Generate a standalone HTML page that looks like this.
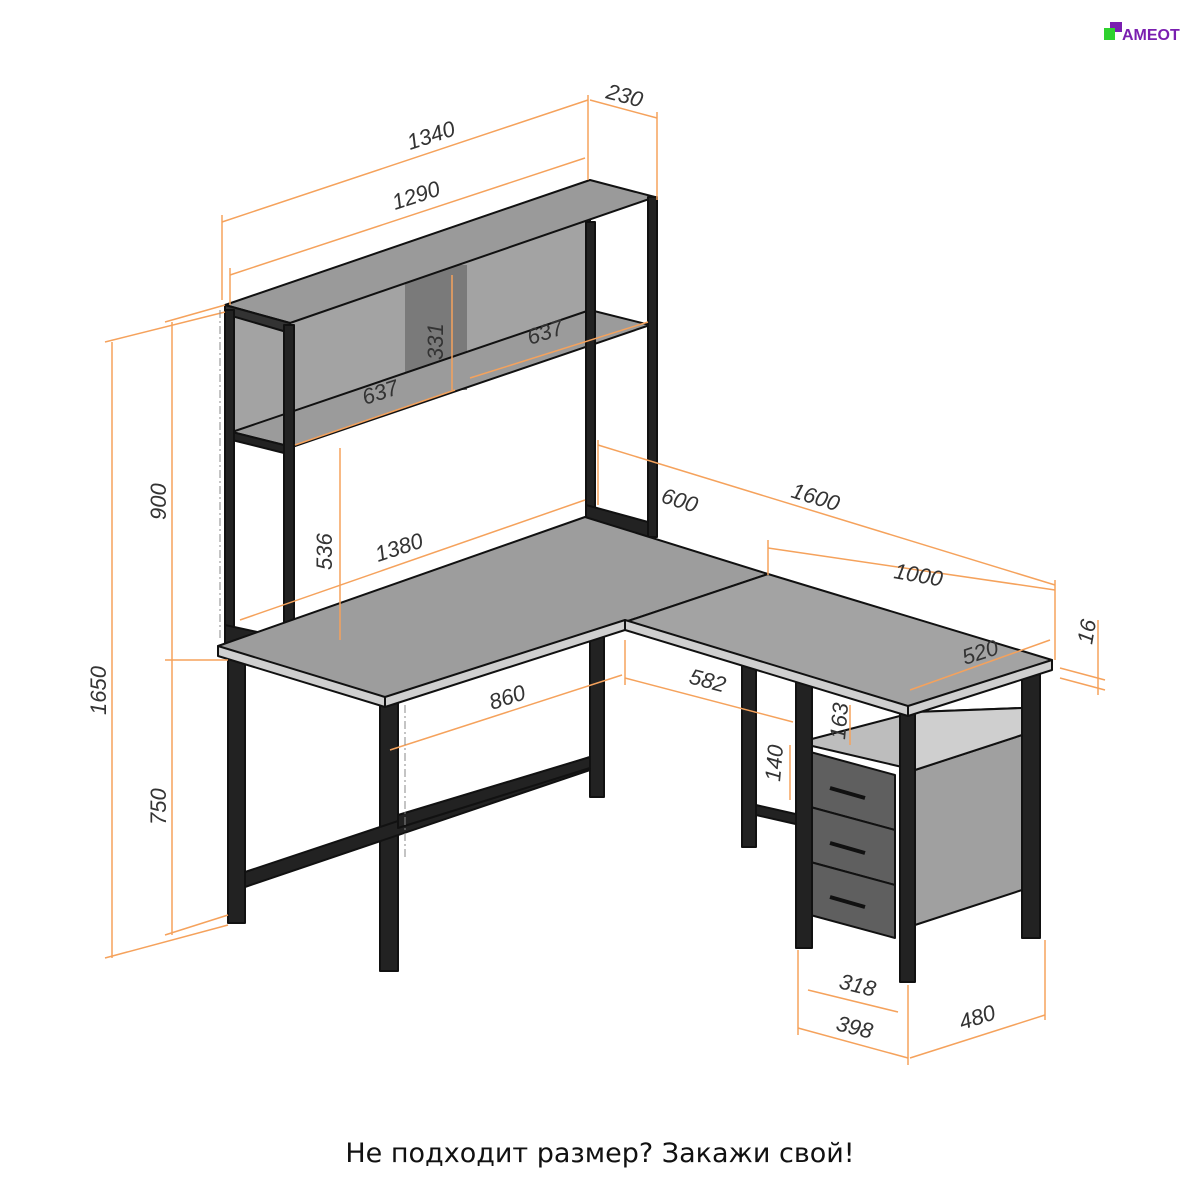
<!DOCTYPE html>
<html><head><meta charset="utf-8"><style>
html,body{margin:0;padding:0;background:#fff;width:1200px;height:1200px;overflow:hidden}
svg text{font-family:"Liberation Sans",sans-serif;fill:#333;font-size:22px}
</style></head><body>
<svg width="1200" height="1200" viewBox="0 0 1200 1200" xmlns="http://www.w3.org/2000/svg">
<!-- logo -->
<rect x="1110" y="22" width="12" height="10" fill="#7a1fb0"/>
<rect x="1104" y="28" width="11" height="12" fill="#2fd12f"/>
<text x="1122" y="40" style="font-size:16px;font-weight:bold;fill:#7a1fb0">АМЕОТ</text>

<g stroke="#111" stroke-width="2" stroke-linejoin="round">
<!-- hutch back panel -->
<polygon points="232,310 590,190 590,315 232,435" fill="#a3a3a3"/>
<rect x="405" y="265" width="62" height="125" fill="#7a7a7a" stroke="none"/>
<!-- top shelf -->
<polygon points="225,305 590,180 655,197 290,323" fill="#9a9a9a"/>
<polygon points="225,305 290,323 290,333 225,314" fill="#333"/>
<!-- middle shelf -->
<polygon points="232,432 590,310 650,325 292,447" fill="#9b9b9b"/>
<polygon points="232,432 292,447 292,455 232,440" fill="#222"/>
<!-- hutch frame legs -->
<rect x="225" y="310" width="9" height="335" fill="#222"/>
<rect x="284" y="325" width="10" height="335" fill="#222"/>
<rect x="586" y="222" width="9" height="302" fill="#222"/>
<rect x="648" y="197" width="9" height="340" fill="#222"/>
<polygon points="586,505 648,522 648,537 586,520" fill="#222"/>
<polygon points="225,625 294,640 294,660 225,645" fill="#222"/>

<!-- desk legs -->
<rect x="228" y="655" width="17" height="268" fill="#222"/>
<rect x="590" y="625" width="14" height="172" fill="#222"/>
<rect x="380" y="698" width="18" height="273" fill="#222"/>
<polygon points="245,872 590,757 590,770 245,887" fill="#222"/>
<polygon points="398,815 590,757 590,768 398,828" fill="#222"/>
<rect x="742" y="665" width="14" height="182" fill="#222"/>
<polygon points="756,805 800,815 800,825 756,815" fill="#222"/>
<!-- cabinet -->
<polygon points="808,745 915,770 1022,735 1022,708 915,712 808,740" fill="#bdbdbd"/>
<polygon points="915,770 1022,735 1022,890 915,925" fill="#a0a0a0"/>
<polygon points="915,712 1022,708 1022,735 915,770" fill="#cfcfcf"/>
<polygon points="803,750 895,775 895,830 803,805" fill="#5f5f5f"/>
<polygon points="803,805 895,830 895,885 803,860" fill="#5f5f5f"/>
<polygon points="803,860 895,885 895,938 803,913" fill="#5f5f5f"/>
<path d="M830,788 l35,10 M830,843 l35,10 M830,897 l35,10" stroke="#111" stroke-width="4" fill="none"/>
<rect x="796" y="680" width="16" height="268" fill="#222"/>
<rect x="900" y="710" width="15" height="272" fill="#222"/>
<rect x="1022" y="670" width="18" height="268" fill="#222"/>

<!-- desk top -->
<polygon points="218,646 585,517 768,574 625,622 385,700 218,652" fill="#9d9d9d"/>
<polygon points="625,622 768,574 1052,660 908,708" fill="#a3a3a3"/>
<polygon points="218,646 385,697 385,707 218,656" fill="#cfcfcf"/>
<polygon points="385,697 625,620 625,630 385,707" fill="#cfcfcf"/>
<polygon points="625,620 908,706 908,716 625,630" fill="#cfcfcf"/>
<polygon points="908,706 1052,660 1052,670 908,716" fill="#cfcfcf"/>
</g>

<!-- dimension lines -->
<g stroke="#f5a25c" stroke-width="1.5" fill="none">
<line x1="222" y1="222" x2="588" y2="100"/><line x1="222" y1="215" x2="222" y2="300"/><line x1="588" y1="95" x2="588" y2="180"/>
<line x1="590" y1="100" x2="657" y2="118"/><line x1="657" y1="112" x2="657" y2="200"/>
<line x1="230" y1="275" x2="585" y2="158"/><line x1="230" y1="268" x2="230" y2="305"/>
<line x1="452" y1="275" x2="452" y2="390"/>
<line x1="295" y1="445" x2="455" y2="390"/>
<line x1="470" y1="378" x2="648" y2="322"/>
<line x1="172" y1="322" x2="172" y2="935"/><line x1="165" y1="322" x2="225" y2="305"/><line x1="165" y1="660" x2="228" y2="660"/><line x1="165" y1="935" x2="228" y2="915"/>
<line x1="112" y1="342" x2="112" y2="958"/><line x1="105" y1="342" x2="225" y2="312"/><line x1="105" y1="958" x2="228" y2="925"/>
<line x1="340" y1="448" x2="340" y2="640"/>
<line x1="240" y1="620" x2="585" y2="500"/>
<line x1="390" y1="750" x2="622" y2="675"/>
<line x1="625" y1="678" x2="793" y2="722"/><line x1="625" y1="640" x2="625" y2="685"/>
<line x1="598" y1="445" x2="1055" y2="585"/><line x1="598" y1="440" x2="598" y2="505"/>
<line x1="768" y1="548" x2="1055" y2="590"/><line x1="768" y1="540" x2="768" y2="575"/><line x1="1055" y1="580" x2="1055" y2="660"/>
<line x1="910" y1="690" x2="1050" y2="640"/>
<line x1="1060" y1="668" x2="1105" y2="680"/><line x1="1060" y1="678" x2="1105" y2="690"/><line x1="1098" y1="620" x2="1098" y2="695"/>
<line x1="850" y1="705" x2="850" y2="745"/>
<line x1="790" y1="745" x2="790" y2="800"/>
<line x1="808" y1="990" x2="898" y2="1012"/>
<line x1="798" y1="1028" x2="908" y2="1058"/><line x1="798" y1="950" x2="798" y2="1035"/><line x1="908" y1="985" x2="908" y2="1065"/>
<line x1="910" y1="1058" x2="1045" y2="1015"/><line x1="1045" y1="940" x2="1045" y2="1020"/>
</g>
<line x1="405" y1="705" x2="405" y2="860" stroke="#888" stroke-dasharray="8,3,2,3"/>
<line x1="220" y1="310" x2="220" y2="640" stroke="#888" stroke-dasharray="8,3,2,3"/>

<g font-style="italic">
<text transform="translate(410,150) rotate(-18)">1340</text>
<text transform="translate(605,98) rotate(15)">230</text>
<text transform="translate(395,210) rotate(-18)">1290</text>
<text transform="translate(443,360) rotate(-90)">331</text>
<text transform="translate(365,405) rotate(-18)">637</text>
<text transform="translate(530,345) rotate(-18)">637</text>
<text transform="translate(166,520) rotate(-90)">900</text>
<text transform="translate(166,825) rotate(-90)">750</text>
<text transform="translate(106,715) rotate(-90)">1650</text>
<text transform="translate(332,570) rotate(-90)">536</text>
<text transform="translate(378,562) rotate(-18)">1380</text>
<text transform="translate(492,710) rotate(-18)">860</text>
<text transform="translate(688,683) rotate(15)">582</text>
<text transform="translate(660,502) rotate(17)">600</text>
<text transform="translate(790,497) rotate(17)">1600</text>
<text transform="translate(893,578) rotate(10)">1000</text>
<text transform="translate(965,665) rotate(-18)">520</text>
<text transform="translate(1092,645) rotate(-80)">16</text>
<text transform="translate(845,740) rotate(-85)">163</text>
<text transform="translate(780,782) rotate(-85)">140</text>
<text transform="translate(838,988) rotate(14)">318</text>
<text transform="translate(835,1030) rotate(14)">398</text>
<text transform="translate(962,1030) rotate(-18)">480</text>
</g>

<text x="600" y="1162" text-anchor="middle" style="font-family:'DejaVu Sans',sans-serif;font-size:27px;fill:#111">Не подходит размер? Закажи свой!</text>
</svg>
</body></html>
